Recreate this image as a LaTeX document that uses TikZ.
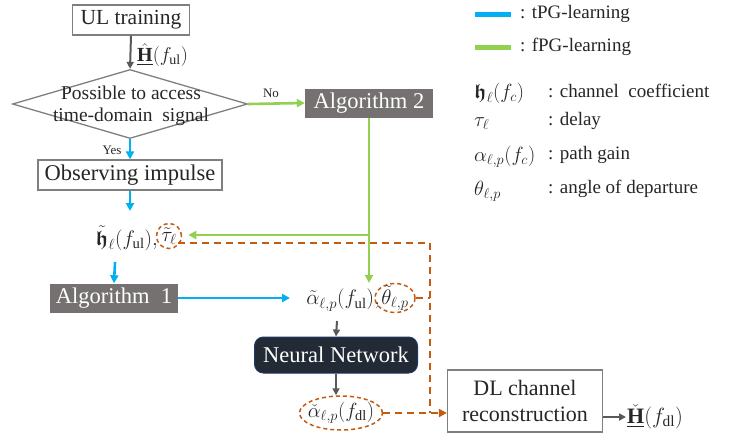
\RequirePackage{fix-cm}
\documentclass[tikz,border=0pt]{standalone}
\usepackage{amsmath,amssymb,bm}
\usepackage{fontspec}
\setmainfont{Liberation Serif}
\usetikzlibrary{shapes.geometric,arrows.meta}
\definecolor{tblue}{HTML}{00B0F0}
\definecolor{fgreen}{HTML}{92D050}
\definecolor{dorange}{HTML}{C55A11}
\definecolor{boxgray}{HTML}{7F7F7F}
\definecolor{algfill}{HTML}{767171}
\definecolor{arrgray}{HTML}{595959}
\definecolor{nnfill}{HTML}{222A35}
\definecolor{nnedge}{HTML}{1F3864}
\definecolor{txt}{HTML}{262626}
\begin{document}
\begin{tikzpicture}[x=1pt,y=-1pt,
  plainbox/.style={draw=boxgray, line width=1.3pt, fill=white, text=txt,
    font=\fontsize{22.5}{25}\selectfont, inner sep=0pt},
  algbox/.style={fill=algfill, text=white, font=\fontsize{22.5}{25}\selectfont,
    inner sep=0pt, minimum height=29pt},
  tip/.style={-{Triangle[length=8pt,width=8pt]}},
  bluearr/.style={tblue, line width=2.6pt, tip},
  greenarr/.style={fgreen, line width=2.6pt, tip},
  greyarr/.style={arrgray, line width=2pt, -{Triangle[length=7pt,width=7pt]}},
  dashedline/.style={dorange, line width=2pt, dash pattern=on 7pt off 5pt},
  dashring/.style={draw=dorange, line width=1.5pt, dash pattern=on 4pt off 3pt},
  mathtxt/.style={text=txt, font=\fontsize{21}{23}\selectfont, inner sep=1pt},
  smalllbl/.style={text=txt, font=\fontsize{13}{15}\selectfont},
  legtxt/.style={text=txt, font=\fontsize{19}{21}\selectfont, anchor=west, inner sep=0pt},
  legmath/.style={text=txt, font=\fontsize{20.5}{23}\selectfont, anchor=west, inner sep=0pt},
  legbar/.style={line width=5pt}]
\useasboundingbox (0,0) rectangle (738,434);

% flow boxes
\node[plainbox, minimum width=117pt, minimum height=30pt, font=\fontsize{21.5}{24}\selectfont] (ul) at (131,20) {UL training};
\node[draw=boxgray, line width=1.3pt, diamond, aspect=3.4, inner sep=0pt,
      minimum width=235pt, minimum height=69pt] (dec) at (130,104) {};
\node[text=txt, font=\fontsize{19.5}{22}\selectfont, align=center] (dectxt) at (131,106)
      {Possible to access\\time-domain\ \ signal};
\node[algbox, minimum width=128pt] (alg2) at (369,103) {Algorithm 2};
\node[plainbox, minimum width=184pt, minimum height=30pt] (obs) at (130,175) {Observing impulse};

% estimates after impulse observation
\node[mathtxt, anchor=east, font=\fontsize{21}{23}\selectfont] (hest) at (159,238) {$\tilde{\bm{\mathfrak{h}}}_\ell(f_{\mathrm{ul}}),$};
\node[mathtxt, dashring, circle, inner sep=-2pt, minimum size=25pt] (tau) at (169,236) {$\tilde{\tau}_\ell$};

\node[algbox, minimum width=128pt] (alg1) at (114,298) {Algorithm\ \ 1};

\node[mathtxt, anchor=east] (alpha) at (381,300) {$\tilde{\alpha}_{\ell,p}(f_{\mathrm{ul}}),$};
\node[mathtxt, dashring, ellipse, inner sep=-4pt, minimum width=40pt, minimum height=29pt] (theta) at (395,298) {$\tilde{\theta}_{\ell,p}$};

\node[rounded corners=9pt, fill=nnfill, draw=nnedge, line width=1pt, text=white,
      font=\fontsize{22.5}{25}\selectfont, minimum width=163pt, minimum height=36pt] (nn) at (336,355) {Neural Network};

\node[mathtxt, dashring, ellipse, inner sep=-6pt, minimum width=83pt, minimum height=34pt,
      font=\fontsize{20.5}{23}\selectfont] (adl) at (341,413) {$\check{\alpha}_{\ell,p}(f_{\mathrm{dl}})$};

\node[plainbox, minimum width=155pt, minimum height=62pt, align=center, font=\fontsize{22}{25}\selectfont] (dl) at (525,401)
      {DL channel\\[1pt]reconstruction};
\node[mathtxt, anchor=west, font=\fontsize{22}{24}\selectfont] (hdl) at (626,417) {$\underline{\check{\mathbf{H}}}(f_{\mathrm{dl}})$};

% connectors
\draw[greyarr] (ul.south) -- (dec.north);
\node[mathtxt, anchor=west, font=\fontsize{20}{22}\selectfont] (hul) at (136,55) {$\underline{\hat{\mathbf{H}}}(f_{\mathrm{ul}})$};

\draw[greenarr] (dec.east) -- (alg2.west);
\node[smalllbl] (nolbl) at (271,93) {No};

\draw[bluearr] (dec.south) -- (obs.north);
\node[smalllbl] (yeslbl) at (112,150) {Yes};

\coordinate (hin) at (130,211);
\draw[bluearr] (obs.south) -- (hin);

\coordinate (hout) at (115,262);
\draw[bluearr] (hout) -- (alg1.north);

\coordinate (alphain) at (290,298);
\draw[bluearr] (alg1.east) -- (alphain);

\coordinate (branch) at (369,235);
\coordinate (thetatop) at (369,283);
\draw[fgreen, line width=2.6pt] (alg2.south) -- (branch);
\draw[greenarr] (branch) -- (thetatop);
\draw[greenarr, shorten >=6pt] (branch) -- (tau.east |- branch);

\coordinate (alphaout) at (337,321);
\draw[greyarr] (alphaout) -- (nn.north);
\draw[greyarr] (nn.south) -- (adl.north -| nn.south);

\coordinate (ctop) at (430,243);
\coordinate (cmid) at (430,298);
\coordinate (cbot) at (430,413);
\draw[dashedline] (tau.south east |- ctop) -- (ctop) -- (cbot);
\draw[dashedline] (theta.east) -- (cmid);
\draw[dashedline, -{Triangle[length=8pt,width=8pt]}] (adl.east) -- (dl.west |- adl.east);

\draw[greyarr] (dl.east |- hdl.west) -- (hdl.west);

% legend
\coordinate (lb1) at (475,14);
\coordinate (lb2) at (475,47);
\draw[legbar, tblue] (lb1) -- ++(36,0) coordinate (lb1e);
\draw[legbar, fgreen] (lb2) -- ++(36,0) coordinate (lb2e);
\node[legtxt] (lt1) at (520,14) {: tPG-learning};
\node[legtxt] (lt2) at (520,47) {: fPG-learning};

\node[legmath] (s1) at (474,93) {$\bm{\mathfrak{h}}_\ell(f_c)$};
\node[legtxt] (d1) at (548,91) {: channel\ \ coefficient};
\node[legmath] (s2) at (474,124) {$\tau_\ell$};
\node[legtxt] (d2) at (548,121) {: delay};
\node[legmath] (s3) at (474,157) {$\alpha_{\ell,p}(f_c)$};
\node[legtxt] (d3) at (548,155) {: path gain};
\node[legmath] (s4) at (474,191) {$\theta_{\ell,p}$};
\node[legtxt] (d4) at (548,189) {: angle\ of\ departure};
\end{tikzpicture}
\end{document}
